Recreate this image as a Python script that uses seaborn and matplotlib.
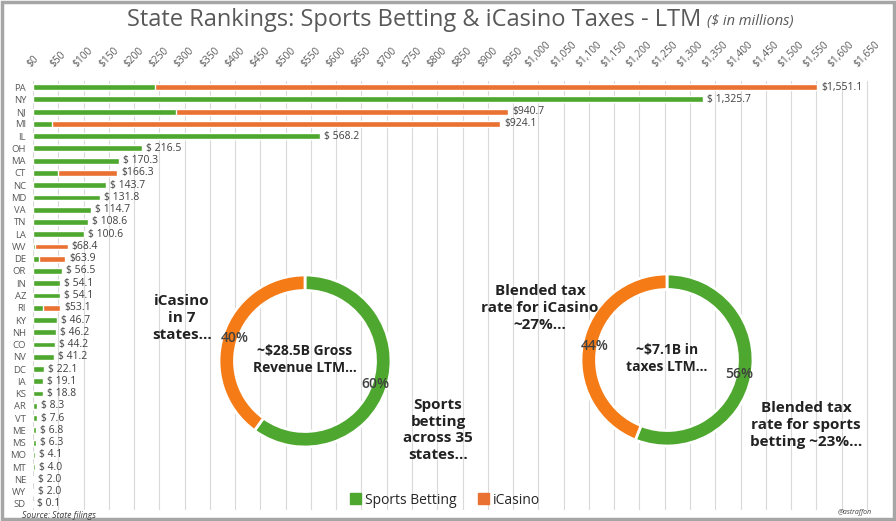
import numpy as np
import pandas as pd
import matplotlib
matplotlib.use('Agg')
import matplotlib.pyplot as plt
import matplotlib.patches as mpatches
import seaborn as sns

sns.set_theme(style='white')
plt.rcParams['font.family'] = ['Open Sans', 'DejaVu Sans']

# --- data ($ in millions) ---
states = ['PA', 'NY', 'NJ', 'MI', 'IL', 'OH', 'MA', 'CT', 'NC', 'MD', 'VA', 'TN',
          'LA', 'WV', 'DE', 'OR', 'IN', 'AZ', 'RI', 'KY', 'NH', 'CO', 'NV', 'DC',
          'IA', 'KS', 'AR', 'VT', 'ME', 'MS', 'MO', 'MT', 'NE', 'WY', 'SD']
totals = [1551.1, 1325.7, 940.7, 924.1, 568.2, 216.5, 170.3, 166.3, 143.7, 131.8,
          114.7, 108.6, 100.6, 68.4, 63.9, 56.5, 54.1, 54.1, 53.1, 46.7, 46.2,
          44.2, 41.2, 22.1, 19.1, 18.8, 8.3, 7.6, 6.8, 6.3, 4.1, 4.0, 2.0, 2.0, 0.1]
icasino = [1310.0, 0, 658.0, 886.5, 0, 0, 0, 116.3, 0, 0, 0, 0, 0, 64.4, 51.9,
           0, 0, 0, 33.1, 0, 0, 0, 0, 0, 0, 0, 0, 0, 0, 0, 0, 0, 0, 0, 0]
value_labels = ['$1,551.1', '$ 1,325.7', '$940.7', '$924.1', '$ 568.2', '$ 216.5',
                '$ 170.3', '$166.3', '$ 143.7', '$ 131.8', '$ 114.7', '$ 108.6',
                '$ 100.6', '$68.4', '$63.9', '$ 56.5', '$ 54.1', '$ 54.1', '$53.1',
                '$ 46.7', '$ 46.2', '$ 44.2', '$ 41.2', '$ 22.1', '$ 19.1', '$ 18.8',
                '$ 8.3', '$ 7.6', '$ 6.8', '$ 6.3', '$ 4.1', '$ 4.0', '$ 2.0',
                '$ 2.0', '$ 0.1']
x_ticks = list(range(0, 1700, 50))

revenue_share = [60, 40]   # sports betting, iCasino
tax_share = [56, 44]

GREEN = '#4EA72E'
ORANGE = '#E97132'
DONUT_ORANGE = '#F47B16'
GRAY = '#595959'

df = pd.DataFrame({'state': states, 'total': totals, 'icasino': icasino})
df['sports'] = df['total'] - df['icasino']

W, H = 896, 521
fig = plt.figure(figsize=(W / 100, H / 100), dpi=100)

# main bar axes
ax = fig.add_axes([33 / W, 1 - 510 / H, 849 / W, 429 / H])
sns.barplot(data=df, y='state', x='total', color=ORANGE, width=0.48,
            saturation=1, ax=ax, orient='h')
sns.barplot(data=df, y='state', x='sports', color=GREEN, width=0.48,
            saturation=1, ax=ax, orient='h')
for i, (t, lab) in enumerate(zip(df['total'], value_labels)):
    ax.text(t + 8, i, lab, va='center', ha='left', fontsize=7.5, color='#404040')

ax.set_xlim(0, 1680)
ax.set_ylim(len(states) - 0.5, -0.5)
ax.xaxis.tick_top()
ax.set_xticks(x_ticks)
ax.set_xticklabels([f'${v:,}' for v in x_ticks], rotation=45, ha='center',
                   va='bottom', fontsize=7.3, color=GRAY)
ax.tick_params(axis='x', length=0, pad=8)
ax.tick_params(axis='y', length=0, pad=5, labelsize=6.8, labelcolor=GRAY)
ax.set_xlabel('')
ax.set_ylabel('')
ax.grid(axis='x', color='#d9d9d9', linewidth=0.8)
ax.set_axisbelow(True)
for s in ax.spines.values():
    s.set_visible(False)

# donuts
def donut(cx, cy, r, shares, center_text):
    dax = fig.add_axes([(cx - r) / W, 1 - (cy + r) / H, 2 * r / W, 2 * r / H])
    dax.pie(shares, colors=[GREEN, DONUT_ORANGE], startangle=90, counterclock=False,
            radius=1, autopct='%d%%', pctdistance=0.86,
            wedgeprops=dict(width=0.18, edgecolor='white', linewidth=2),
            textprops=dict(fontsize=10, color='#404040', fontweight='semibold'))
    dax.set_xlim(-1, 1)
    dax.set_ylim(-1, 1)
    dax.text(0, 0.02, center_text, ha='center', va='center', fontsize=10,
             fontweight='bold', color='#222222', linespacing=1.3)
    dax.axis('off')

donut(305, 361, 86, revenue_share, '~$28.5B Gross\nRevenue LTM...')
donut(667, 360, 86, tax_share, '~$7.1B in\ntaxes LTM...')

note_kw = dict(ha='center', va='center', fontsize=11, fontweight='bold',
               color='#222222', linespacing=1.25)
fig.text(182 / W, 1 - 318 / H, 'iCasino\nin 7\nstates...', **note_kw)
fig.text(438 / W, 1 - 430 / H, 'Sports\nbetting\nacross 35\nstates...', **note_kw)
fig.text(540 / W, 1 - 308 / H, 'Blended tax\nrate for iCasino\n~27%...', **note_kw)
fig.text(806 / W, 1 - 425 / H, 'Blended tax\nrate for sports\nbetting ~23%...', **note_kw)

# title
fig.text(701 / W, 1 - 20 / H, 'State Rankings: Sports Betting & iCasino Taxes - LTM',
         ha='right', va='center', fontsize=17, color=GRAY)
fig.text(707 / W, 1 - 21 / H, '($ in millions)', ha='left', va='center',
         fontsize=10.5, color=GRAY, style='italic')

# legend
handles = [mpatches.Patch(color=GREEN, label='Sports Betting'),
           mpatches.Patch(color=ORANGE, label='iCasino')]
fig.legend(handles=handles, loc='center', bbox_to_anchor=(445 / W, 1 - 500 / H),
           ncol=2, frameon=False, fontsize=10, handlelength=0.8, handleheight=0.8,
           handletextpad=0.3, columnspacing=1.5)

fig.text(22 / W, 1 - 515 / H, 'Source: State filings', ha='left', va='center',
         fontsize=6.2, style='italic', color='#404040')
fig.text(872 / W, 1 - 513 / H, '@astraffon', ha='right', va='center',
         fontsize=5, style='italic', color='#404040')

# frame around the whole picture
fig.patches.append(mpatches.Rectangle((0.002, 0.003), 0.996, 0.994,
                                      transform=fig.transFigure, fill=False,
                                      edgecolor='#a6a6a6', linewidth=2.5))

fig.savefig('out.png', dpi=100)
